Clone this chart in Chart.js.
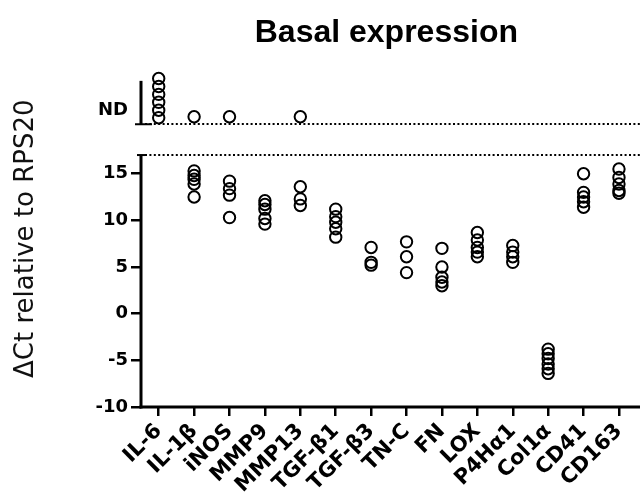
<!DOCTYPE html>
<html>
<head>
<meta charset="utf-8">
<script src="https://cdn.jsdelivr.net/npm/chart.js@4.4.1/dist/chart.umd.min.js"></script>
<style>
  html, body { margin: 0; padding: 0; background: #fff; overflow: hidden; }
  #wrap { width: 640px; height: 494px; position: relative; }
  #myChart { display: block; }
</style>
</head>
<body>
<div id="wrap"><canvas id="myChart"></canvas></div>
<script>
const categories = ['IL-6', 'IL-1β', 'iNOS', 'MMP9', 'MMP13', 'TGF-β1', 'TGF-β3',
                    'TN-C', 'FN', 'LOX', 'P4Hα1', 'Col1α', 'CD41', 'CD163'];

// measured ΔCt values, one list per gene (IL-6 was not detected)
const deltaCt = [
  [],
  [15.3, 14.8, 14.4, 13.9, 12.5],
  [14.2, 13.4, 12.7, 10.3],
  [12.1, 11.7, 11.2, 10.2, 9.6],
  [13.6, 12.3, 11.6],
  [11.2, 10.4, 9.8, 9.1, 8.2],
  [7.1, 5.5, 5.2],
  [7.7, 6.1, 4.4],
  [7.0, 5.0, 3.9, 3.4, 3.0],
  [8.7, 7.9, 7.1, 6.6, 6.1],
  [7.3, 6.6, 6.1, 5.5],
  [-3.8, -4.3, -4.8, -5.4, -5.9, -6.4],
  [15.0, 13.0, 12.5, 12.0, 11.4],
  [15.5, 14.6, 13.9, 13.2, 12.9]
];

// not detected samples, drawn above the axis break
const ndGenes = ['IL-6', 'IL-1β', 'iNOS', 'MMP13'];
const ndLevels = [
  [25.2, 24.35, 23.5, 22.65, 21.8, 21.0],
  [21.1],
  [21.1],
  [21.1]
];

const yTicks = [-10, -5, 0, 5, 10, 15];
const breakTop = 17;     // top of the measured range
const ndLine = 20.3;     // ND baseline
const ndTop = 24.95;     // top of the ND axis piece
const ndTick = 21.8;     // where the ND label sits

const measuredPoints = [];
deltaCt.forEach((vals, i) => vals.forEach(v => measuredPoints.push({ x: i, y: v })));
const ndPoints = [];
ndGenes.forEach((g, k) => ndLevels[k].forEach(v => ndPoints.push({ x: categories.indexOf(g), y: v })));

const axisBreak = {
  id: 'axisBreak',
  afterDraw(chart) {
    const c = chart.ctx;
    const xs = chart.scales.x;
    const ys = chart.scales.y;
    const left = xs.left;
    const right = chart.width;
    c.save();
    c.strokeStyle = '#000';
    c.lineCap = 'butt';
    // lower y axis
    c.lineWidth = 3;
    c.beginPath();
    c.moveTo(left, ys.getPixelForValue(-10) + 1.5);
    c.lineTo(left, ys.getPixelForValue(breakTop));
    c.stroke();
    // x axis
    c.beginPath();
    c.moveTo(left - 1.5, ys.getPixelForValue(-10));
    c.lineTo(right, ys.getPixelForValue(-10));
    c.stroke();
    // ND axis piece
    c.beginPath();
    c.moveTo(left, ys.getPixelForValue(ndLine));
    c.lineTo(left, ys.getPixelForValue(ndTop));
    c.stroke();
    c.lineWidth = 2;
    c.beginPath();
    c.moveTo(left - 6, ys.getPixelForValue(ndLine));
    c.lineTo(left + 11, ys.getPixelForValue(ndLine));
    c.stroke();
    c.beginPath();
    c.moveTo(left - 4, ys.getPixelForValue(breakTop));
    c.lineTo(left + 4, ys.getPixelForValue(breakTop));
    c.stroke();
    // dotted break lines
    c.setLineDash([2, 2.4]);
    c.lineWidth = 2;
    [breakTop, ndLine].forEach(v => {
      const py = Math.round(ys.getPixelForValue(v));
      c.beginPath();
      c.moveTo(left + 4, py);
      c.lineTo(right, py);
      c.stroke();
    });
    c.restore();
  }
};

const pointStyle = {
  pointStyle: 'circle',
  pointRadius: 5.7,
  pointHoverRadius: 5.7,
  pointBorderWidth: 2,
  pointBorderColor: '#000',
  pointBackgroundColor: 'rgba(0,0,0,0)',
  showLine: false
};

const ctx = document.getElementById('myChart').getContext('2d');
const chart = new Chart(ctx, {
  type: 'scatter',
  data: {
    datasets: [
      Object.assign({ label: 'ΔCt', data: measuredPoints }, pointStyle),
      Object.assign({ label: 'ND', data: ndPoints }, pointStyle)
    ]
  },
  options: {
    responsive: true,
    maintainAspectRatio: false,
    animation: false,
    // the rotated last label asks for ~8px on the right; give it back
    layout: { padding: { left: 0, top: 0, bottom: 0, right: -8.3 } },
    plugins: {
      legend: { display: false },
      tooltip: { enabled: false },
      title: {
        display: true,
        text: 'Basal expression',
        fullSize: false,
        color: '#000',
        font: { family: 'Liberation Sans', size: 32, weight: 'bold' },
        padding: { top: 14, bottom: 18 }
      }
    },
    scales: {
      x: {
        type: 'linear',
        min: -0.5,
        max: 13.36,
        afterBuildTicks: (scale) => { scale.ticks = categories.map((c, i) => ({ value: i })); },
        afterFit: (scale) => { scale.height = 87; },
        border: { display: false },
        grid: { drawOnChartArea: false, drawTicks: true, tickLength: 9, lineWidth: 2.5, color: '#000' },
        ticks: {
          autoSkip: false,
          maxRotation: 45,
          minRotation: 45,
          padding: 3,
          color: '#000',
          font: { family: 'DejaVu Sans', size: 21, weight: 'bold' },
          callback: (v) => categories[v]
        }
      },
      y: {
        type: 'linear',
        min: -10,
        max: 26.07,
        afterBuildTicks: (scale) => { scale.ticks = yTicks.concat([ndTick]).map(v => ({ value: v })); },
        afterFit: (scale) => { scale.width = 141; },
        border: { display: false },
        grid: {
          drawOnChartArea: false,
          drawTicks: true,
          tickLength: 10,
          lineWidth: 2.5,
          color: (c) => (c.tick && c.tick.value === ndTick) ? 'rgba(0,0,0,0)' : '#000'
        },
        ticks: {
          padding: 3,
          color: '#000',
          font: { family: 'DejaVu Sans', size: 18, weight: 'bold' },
          callback: (v) => v === ndTick ? 'ND' : v
        },
        title: {
          display: true,
          text: 'ΔCt relative to RPS20',
          color: '#111',
          font: { family: 'DejaVu Sans', size: 26 },
          padding: { top: 11, bottom: 0 }
        }
      }
    }
  },
  plugins: [axisBreak]
});
</script>
</body>
</html>
